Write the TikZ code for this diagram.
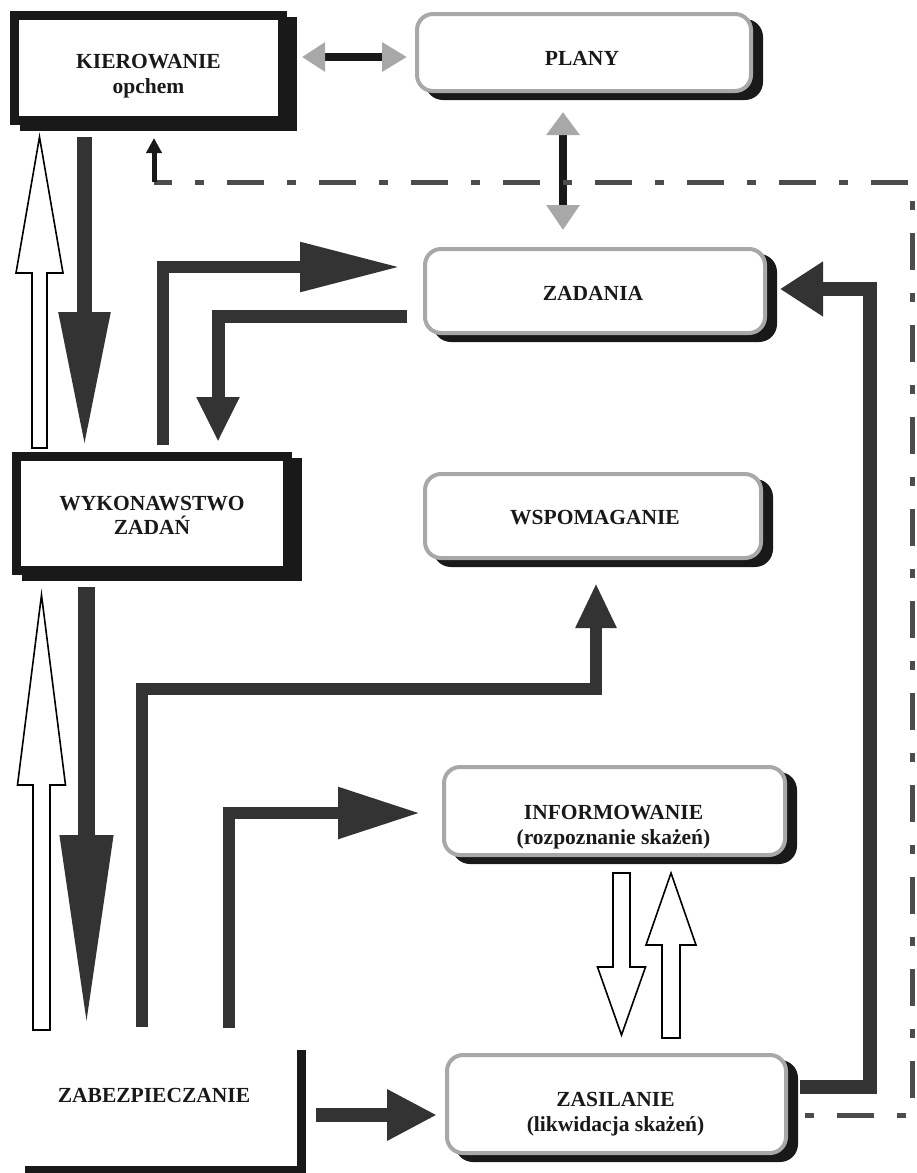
\documentclass[tikz,border=0pt]{standalone}
\usepackage{fontspec}
\setmainfont{Liberation Serif}
\usetikzlibrary{arrows.meta,calc,shadows}
\definecolor{ink}{gray}{0.1}
\definecolor{arrowink}{gray}{0.2}
\definecolor{softgray}{gray}{0.66}
\definecolor{dashink}{gray}{0.3}
% outlined block arrow: start, tip, half shaft width, half head width, head length
\newcommand\hollowarrow[5]{%
  \draw[hollow] let \p1=(#1), \p2=(#2), \n1={\y2>\y1 ? \y2-#5pt : \y2+#5pt} in
    (\x1-#3pt,\y1) -- (\x1-#3pt,\n1*1pt) -- (\x1-#4pt,\n1*1pt) -- (\x1,\y2)
    -- (\x1+#4pt,\n1*1pt) -- (\x1+#3pt,\n1*1pt) -- (\x1+#3pt,\y1) -- cycle;}
\begin{document}
\begin{tikzpicture}[x=1pt,y=-1pt,
  blackbox/.style={draw=ink, line width=9pt, fill=white, inner sep=0pt,
    general shadow={draw=ink, fill=ink, shadow xshift=10pt, shadow yshift=-6pt}},
  roundbox/.style={draw=softgray, line width=4pt, fill=white, rounded corners=16pt, inner sep=0pt,
    general shadow={draw=ink, fill=ink, shadow xshift=10pt, shadow yshift=-7pt}},
  lbl/.style={font=\bfseries\fontsize{21.5}{24.5}\selectfont, align=center, inner sep=0pt, text=ink},
  darkarrow/.style={draw=arrowink, line width=#1, line join=miter},
  hollow/.style={draw=black, line width=1.6pt, fill=white, line join=miter},
  fbline/.style={draw=dashink, line width=5pt, dash pattern=on 37pt off 23pt on 9pt off 23pt, dash phase=19pt},
]
\useasboundingbox (0,0) rectangle (916,1173);
\fill[white] (0,0) rectangle (916,1173);

% boxes
\node[blackbox, minimum width=268pt, minimum height=105pt] (kier) at (148.5,68) {};
\node[blackbox, minimum width=271pt, minimum height=114pt] (wyk) at (152,513.5) {};
\node[roundbox, minimum width=334pt, minimum height=77pt] (plany) at (584,52.5) {};
\node[roundbox, minimum width=340pt, minimum height=84pt] (zad) at (595,291) {};
\node[roundbox, minimum width=336pt, minimum height=84pt] (wsp) at (593,516) {};
\node[roundbox, minimum width=341pt, minimum height=88pt] (inf) at (614.5,811) {};
\node[roundbox, minimum width=339pt, minimum height=98pt] (zas) at (616.5,1104) {};

% labels
\node[lbl] (kiertxt) at ($(kier)+(0,8)$) {KIEROWANIE\\opchem};
\node[lbl] (wyktxt) at ($(wyk)+(0,2)$) {WYKONAWSTWO\\ZADAŃ};
\node[lbl] (planytxt) at ($(plany)+(-2,5.5)$) {PLANY};
\node[lbl] (zadtxt) at ($(zad)+(-2,2)$) {ZADANIA};
\node[lbl] (wsptxt) at ($(wsp)+(2,2)$) {WSPOMAGANIE};
\node[lbl] (inftxt) at ($(inf)+(-1,16)$) {INFORMOWANIE\\(rozpoznanie skażeń)};
\node[lbl] (zastxt) at ($(zas)+(-1,10)$) {ZASILANIE\\(likwidacja skażeń)};
\node[lbl] (zab) at (154,1095) {ZABEZPIECZANIE};

% partial frame of the ZABEZPIECZANIE block
\draw[draw=ink, line width=9pt] ($(zab)+(147,-45)$) |- ($(zab)+(-129,75)$);

% KIEROWANIE <-> PLANY and PLANY <-> ZADANIA
\draw[line width=8pt, draw=ink,
  {Triangle[length=23pt,width=28pt,color=softgray]}-{Triangle[length=25pt,width=28pt,color=softgray]}]
  ($(kier.east)+(15,-11)$) -- ($(plany.west)+(-8,4.5)$);
\draw[line width=8pt, draw=ink,
  {Triangle[length=23pt,width=32pt,color=softgray]}-{Triangle[length=25pt,width=32pt,color=softgray]}]
  ($(plany.south)+(-21,19)$) -- ($(zad.north)+(-32,-17)$);

% feedback from ZASILANIE to KIEROWANIE
\coordinate (fbleft) at ($(kier.south)+(5.5,57)$);
\coordinate (fbtop) at ($(fbleft)+(758,0)$);
\draw[fbline] (fbleft) -- (fbtop) |- ($(zas.east)+(12,11)$);
\draw[line width=5pt, draw=ink, -{Triangle[length=15pt,width=15pt]}]
  (fbleft) -- ($(kier.south)+(5.5,13)$);

% KIEROWANIE <-> WYKONAWSTWO
\draw[darkarrow=15pt, -{Triangle[length=136pt,width=48pt]}]
  ($(kier.south)+(-64,12)$) -- ($(wyk.north)+(-67.5,-4)$);
\hollowarrow{$(wyk.north)+(-112.5,-4)$}{$(kier.south)+(-109,12)$}{7.5}{23.5}{136}

% WYKONAWSTWO <-> ZABEZPIECZANIE
\draw[darkarrow=17pt, -{Triangle[length=195pt,width=49pt]}]
  ($(wyk.south)+(-65.5,12)$) -- ($(zab)+(-67.5,-65)$);
\hollowarrow{$(zab)+(-112.5,-65)$}{$(wyk.south)+(-110.5,20)$}{8.5}{24}{190}

% WYKONAWSTWO <-> ZADANIA
\draw[darkarrow=12pt, -{Triangle[length=100pt,width=47pt]}]
  ($(wyk.north)+(10.5,-7)$) |- ($(zad.west)+(-23,-24)$);
\draw[darkarrow=13pt, -{Triangle[length=45pt,width=40pt]}]
  ($(zad.west)+(-16,25)$) -| ($(wyk.north)+(66,-10)$);

% ZABEZPIECZANIE -> WSPOMAGANIE, INFORMOWANIE, ZASILANIE
\draw[darkarrow=12pt, -{Triangle[length=45pt,width=38pt]}]
  ($(zab)+(-12,-68)$) |- ($(wsp.south)+(3,129)$) -- ($(wsp.south)+(3,23)$);
\draw[darkarrow=12pt, -{Triangle[length=82pt,width=49pt]}]
  ($(zab)+(75,-67)$) |- ($(inf.west)+(-22,2)$);
\draw[darkarrow=14pt, -{Triangle[length=50pt,width=48pt]}]
  ($(zab)+(162,20)$) -- ($(zas.west)+(-8,11)$);

% ZASILANIE -> ZADANIA
\draw[darkarrow=14pt, -{Triangle[length=43pt,width=52pt]}]
  ($(zas.east)+(12,-17)$) -| ($(zad.east)+(103,-2)$) -- ($(zad.east)+(13,-2)$);

% INFORMOWANIE <-> ZASILANIE
\hollowarrow{$(inf.south)+(7,16)$}{$(zas.north)+(5,-18)$}{8.5}{24}{68}
\hollowarrow{$(zas.north)+(54.5,-15)$}{$(inf.south)+(56.5,16)$}{9}{25}{72}
\end{tikzpicture}
\end{document}
